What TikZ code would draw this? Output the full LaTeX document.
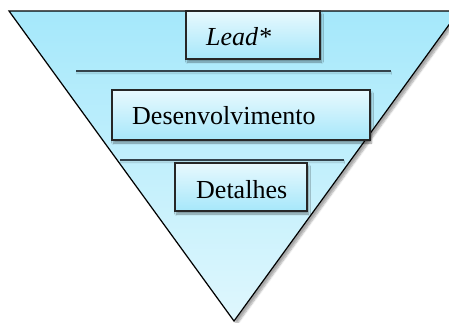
\documentclass[tikz,border=0pt]{standalone}
\usepackage{fontspec}
\setmainfont{Liberation Serif}
\usetikzlibrary{shadows.blur}
\definecolor{funtop}{HTML}{A5E8FB}
\definecolor{funbot}{HTML}{DFF7FD}
\definecolor{boxtop}{HTML}{E8F9FE}
\definecolor{boxbot}{HTML}{A6E7FA}
\definecolor{sepline}{HTML}{33434C}
\tikzset{
  funnel/.style={draw=black, line width=1.2pt, top color=funtop, bottom color=funbot,
    blur shadow={shadow xshift=3pt, shadow yshift=-3pt, shadow blur steps=6, shadow opacity=35}},
  stagebox/.style={draw=black!85, line width=1.1pt, top color=boxtop, bottom color=boxbot,
    rectangle, inner sep=0pt,
    blur shadow={shadow xshift=1.5pt, shadow yshift=-3pt, shadow blur steps=5, shadow opacity=40}},
  stagetext/.style={anchor=base west, inner sep=0pt, font=\fontsize{26}{30}\selectfont},
  sepstyle/.style={draw=sepline, line width=1.6pt,
    blur shadow={shadow xshift=0pt, shadow yshift=-2pt, shadow blur steps=3, shadow opacity=25}}
}
\begin{document}
\begin{tikzpicture}[x=1pt,y=-1pt]
\useasboundingbox (0,0) rectangle (449,322);
\begin{scope}
\clip (0,0) rectangle (449,322);
\coordinate (tl) at (9,11);
\coordinate (tr) at (459,11);
\coordinate (ap) at (234,321);
\path[funnel] (tl) -- (tr) -- (ap) -- cycle;
\end{scope}
% separator lines
\coordinate (s1a) at (76,71);
\coordinate (s1b) at (391,71);
\coordinate (s2a) at (120,160);
\coordinate (s2b) at (344,160);
\draw[sepstyle] (s1a) -- (s1b);
\draw[sepstyle] (s2a) -- (s2b);
% boxes
\node[stagebox, minimum width=134pt, minimum height=48pt] (lead) at (253,35) {};
\node[stagebox, minimum width=258pt, minimum height=50pt] (desen) at (241,115) {};
\node[stagebox, minimum width=132pt, minimum height=48pt] (detal) at (241,187) {};
% texts
\node[stagetext] (leadt) at (206,45) {\textit{Lead*}};
\node[stagetext] (desent) at (132,124) {Desenvolvimento};
\node[stagetext] (detalt) at (196,198) {Detalhes};
\end{tikzpicture}
\end{document}
